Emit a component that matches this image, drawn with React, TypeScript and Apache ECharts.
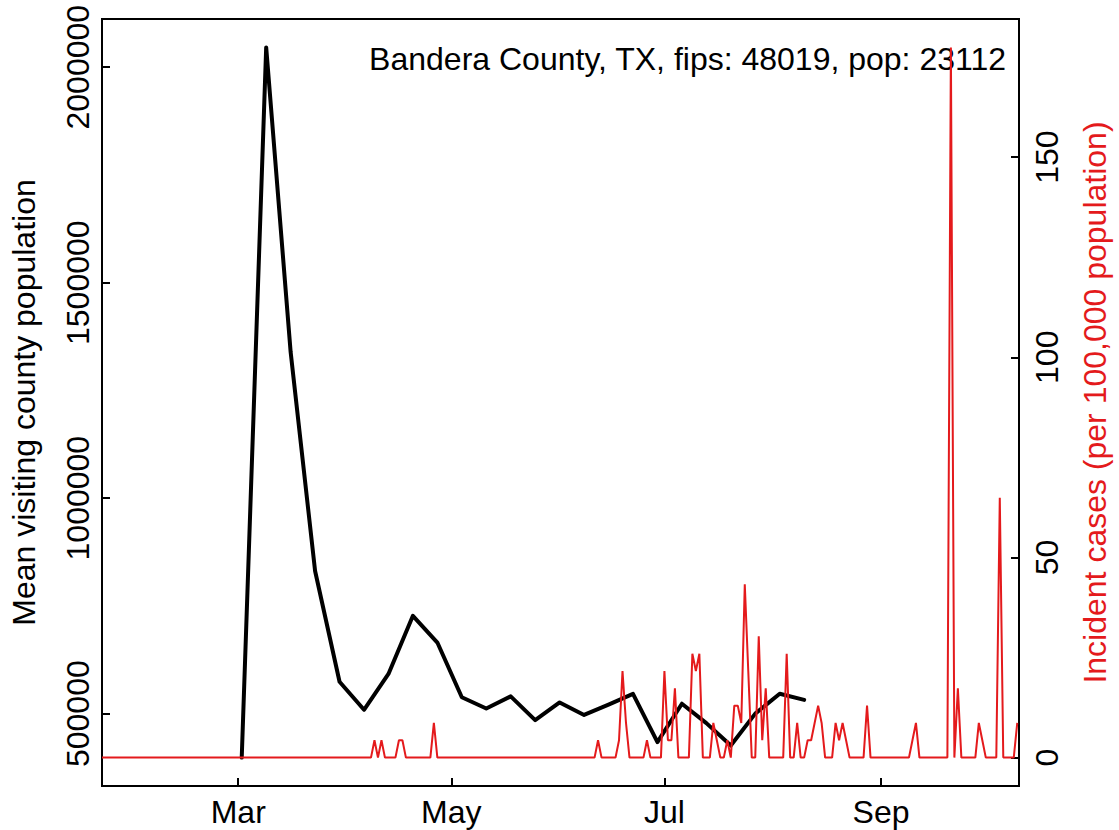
import React, { useEffect, useRef } from "react";
import * as echarts from "echarts";

const POPULATION = 23112;
const titleText = "Bandera County, TX, fips: 48019, pop: 23112";
const leftName = "Mean visiting county population";
const rightName = "Incident cases (per 100,000 population)";

// weekly mean visiting county population (black)
const mobilityDates = [
  "2020-03-02", "2020-03-09", "2020-03-16", "2020-03-23", "2020-03-30", "2020-04-06",
  "2020-04-13", "2020-04-20", "2020-04-27", "2020-05-04", "2020-05-11", "2020-05-18",
  "2020-05-25", "2020-06-01", "2020-06-08", "2020-06-15", "2020-06-22", "2020-06-29",
  "2020-07-06", "2020-07-13", "2020-07-20", "2020-07-27", "2020-08-03", "2020-08-10",
];
const mobilityValues = [
  398000, 2046000, 1339000, 831000, 574000, 509000,
  592000, 727000, 665000, 538000, 512000, 540000,
  485000, 526000, 497000, 521000, 546000, 434000,
  523000, 478000, 426000, 500000, 546000, 532000,
];

// daily incident cases (red); days not listed have 0 cases
const caseStart = "2020-01-22";
const caseEnd = "2020-10-10";
const caseDates = [
  "2020-04-09", "2020-04-11", "2020-04-16", "2020-04-17", "2020-04-26",
  "2020-06-12", "2020-06-18", "2020-06-19", "2020-06-20", "2020-06-26",
  "2020-07-01", "2020-07-02", "2020-07-03", "2020-07-04", "2020-07-09",
  "2020-07-10", "2020-07-11", "2020-07-15", "2020-07-16", "2020-07-19",
  "2020-07-21", "2020-07-22", "2020-07-23", "2020-07-24", "2020-07-25",
  "2020-07-28", "2020-07-29", "2020-07-30", "2020-08-05", "2020-08-08",
  "2020-08-11", "2020-08-12", "2020-08-13", "2020-08-14", "2020-08-15",
  "2020-08-19", "2020-08-20", "2020-08-21", "2020-08-22", "2020-08-28",
  "2020-09-10", "2020-09-11", "2020-09-21", "2020-09-23", "2020-09-29",
  "2020-09-30", "2020-10-05", "2020-10-10",
];
const caseCounts = [
  1, 1, 1, 1, 2,
  1, 1, 5, 2, 1,
  5, 1, 1, 4, 6,
  5, 6, 2, 1, 1,
  3, 3, 2, 10, 5,
  7, 1, 4, 6, 2,
  1, 1, 2, 3, 2,
  2, 1, 2, 1, 3,
  1, 2, 41, 4, 2,
  1, 15, 2,
];

const xTickDates = ["2020-03-01", "2020-05-01", "2020-07-01", "2020-09-01"];
const xTickLabels = ["Mar", "May", "Jul", "Sep"];
const leftTicks = [500000, 1000000, 1500000, 2000000];
const rightTicks = [0, 50, 100, 150];

const DAY = 86400000;
const ts = (s: string) => Date.parse(s + "T00:00:00Z");
const FONT = '"Liberation Sans", Arial, Helvetica, sans-serif';
const FS = 32;
const RED = "#E41A1C";

function padRange(vals: number[]) {
  const lo = Math.min(...vals);
  const hi = Math.max(...vals);
  const r = hi - lo;
  return { min: lo - 0.04 * r, max: hi + 0.04 * r };
}

export default function App() {
  const ref = useRef<HTMLDivElement>(null);
  useEffect(() => {
    if (!ref.current) return;
    const chart = echarts.init(ref.current, undefined, { renderer: "svg" });

    const caseMap = new Map<number, number>();
    caseDates.forEach((d, i) => caseMap.set(ts(d), caseCounts[i]));
    const caseSeries: [number, number][] = [];
    for (let t = ts(caseStart); t <= ts(caseEnd); t += DAY) {
      caseSeries.push([t, ((caseMap.get(t) ?? 0) * 100000) / POPULATION]);
    }
    const mobility = mobilityDates.map((d, i) => [ts(d), mobilityValues[i]]);
    const leftR = padRange(mobilityValues);
    const rightR = padRange(caseSeries.map((p) => p[1]));
    const xTicks = xTickDates.map(ts);

    const tickStyle = { color: "#000", width: 2 };
    chart.setOption({
      animation: false,
      grid: {
        left: 98,
        right: 98,
        top: 19,
        bottom: 44,
        show: true,
        borderColor: "#000",
        borderWidth: 2,
        backgroundColor: "transparent",
      },
      xAxis: {
        type: "value",
        min: ts(caseStart),
        max: ts(caseEnd) + DAY / 2,
        axisLine: { show: false, onZero: false },
        splitLine: { show: false },
        axisTick: { show: true, inside: true, length: 8, lineStyle: tickStyle, customValues: xTicks },
        axisLabel: {
          customValues: xTicks,
          formatter: (v: number) => {
            const i = xTicks.findIndex((t) => Math.abs(t - v) < DAY / 2);
            return i >= 0 ? xTickLabels[i] : "";
          },
          fontSize: FS,
          fontFamily: FONT,
          color: "#000",
          margin: 10,
        },
      },
      yAxis: [
        {
          type: "value",
          position: "left",
          min: leftR.min,
          max: leftR.max,
          name: leftName,
          nameLocation: "middle",
          nameGap: 62,
          nameTextStyle: { fontSize: FS, fontFamily: FONT, color: "#000" },
          axisLine: { show: false, onZero: false },
          splitLine: { show: false },
          axisTick: { show: true, inside: true, length: 8, lineStyle: tickStyle, customValues: leftTicks },
          axisLabel: {
            customValues: leftTicks,
            formatter: (v: number) => String(Math.round(v)),
            rotate: 90,
            fontSize: FS,
            fontFamily: FONT,
            color: "#000",
            margin: 8,
          },
        },
        {
          type: "value",
          position: "right",
          min: rightR.min,
          max: rightR.max,
          name: rightName,
          nameLocation: "middle",
          nameGap: 60,
          nameTextStyle: { fontSize: FS, fontFamily: FONT, color: RED },
          axisLine: { show: false, onZero: false },
          splitLine: { show: false },
          axisTick: { show: true, inside: true, length: 8, lineStyle: tickStyle, customValues: rightTicks },
          axisLabel: {
            customValues: rightTicks,
            formatter: (v: number) => String(Math.round(v)),
            rotate: 90,
            fontSize: FS,
            fontFamily: FONT,
            color: "#000",
            margin: 12,
          },
        },
      ],
      series: [
        {
          type: "line",
          yAxisIndex: 0,
          data: mobility,
          showSymbol: false,
          symbol: "none",
          lineStyle: { color: "#000", width: 4, join: "round", cap: "round" },
          z: 2,
        },
        {
          type: "line",
          yAxisIndex: 1,
          data: caseSeries,
          showSymbol: false,
          symbol: "none",
          lineStyle: { color: RED, width: 2 },
          z: 3,
        },
      ],
      graphic: [
        {
          type: "text",
          x: 1006,
          y: 59,
          style: {
            text: titleText,
            font: `${FS}px ${FONT}`,
            textAlign: "right",
            textVerticalAlign: "middle",
            fill: "#000",
          },
        },
      ],
    });
    return () => chart.dispose();
  }, []);
  return (
    <div
      ref={ref}
      style={{ position: "fixed", left: 0, top: 0, width: 1119, height: 830, background: "#fff" }}
    />
  );
}
